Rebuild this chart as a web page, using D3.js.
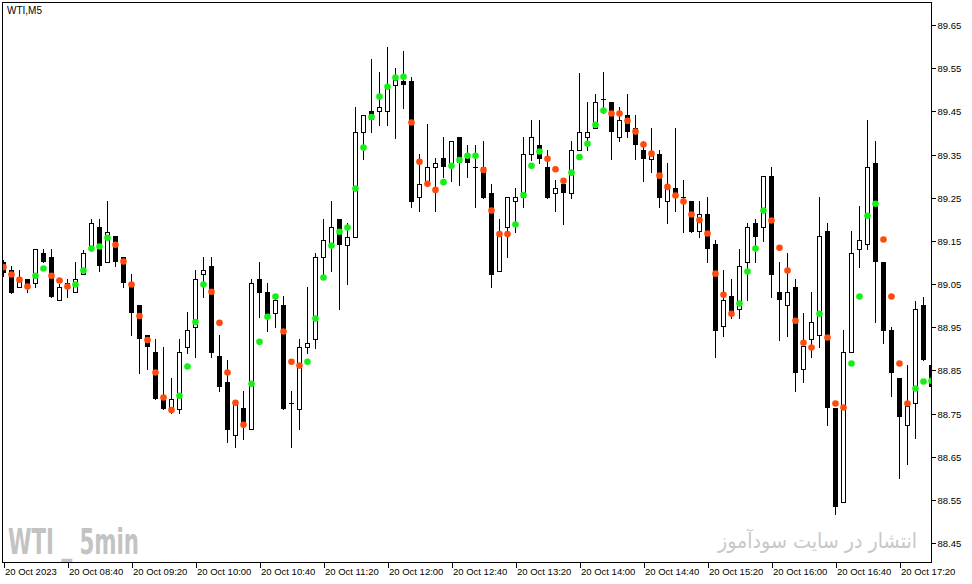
<!DOCTYPE html>
<html><head><meta charset="utf-8">
<script src="https://cdn.jsdelivr.net/npm/d3@7"></script>
<style>body{margin:0;background:#fff}svg{display:block}</style>
</head><body>
<svg id="c" width="972" height="584"></svg>
<script>
// OHLC of WTI M5 candles, 20 Oct 2023 from 08:00, one per 5 minutes
const openP  =[89.101,89.083,89.043,89.061,89.052,89.122,89.112,89.013,89.052,89.031,89.073,89.131,89.182,89.101,89.161,89.112,89.046,89.001,88.931,88.893,88.791,88.760,88.760,88.904,88.951,89.073,89.092,88.883,88.823,88.701,88.763,88.714,89.062,89.032,88.982,89.002,88.774,88.761,88.904,88.922,89.112,89.140,89.200,89.141,89.160,89.402,89.450,89.450,89.450,89.510,89.521,89.520,89.251,89.281,89.321,89.341,89.330,89.390,89.349,89.321,89.321,89.260,89.081,89.182,89.242,89.252,89.351,89.371,89.321,89.260,89.281,89.260,89.360,89.390,89.411,89.479,89.471,89.390,89.441,89.411,89.360,89.340,89.351,89.242,89.273,89.251,89.242,89.172,89.212,89.143,88.952,89.022,88.991,89.100,89.191,89.182,89.300,89.032,89.001,89.043,88.853,88.922,88.931,89.172,88.762,88.545,88.892,89.131,89.142,89.330,89.100,88.944,88.832,88.723,88.774,89.001,88.863];
const highP  =[89.106,89.092,89.083,89.061,89.131,89.131,89.131,89.050,89.061,89.102,89.129,89.200,89.200,89.242,89.161,89.112,89.073,89.001,88.931,88.923,88.905,88.832,88.923,88.984,89.083,89.113,89.113,88.931,88.874,88.781,88.803,89.062,89.101,89.053,89.021,89.022,88.803,88.922,89.043,89.121,89.200,89.242,89.200,89.191,89.459,89.441,89.571,89.541,89.598,89.550,89.589,89.529,89.351,89.421,89.342,89.390,89.381,89.390,89.372,89.372,89.381,89.282,89.200,89.251,89.273,89.390,89.430,89.430,89.360,89.291,89.281,89.381,89.539,89.472,89.490,89.541,89.471,89.459,89.490,89.442,89.382,89.411,89.360,89.330,89.411,89.291,89.242,89.242,89.252,89.152,89.083,89.062,89.132,89.192,89.201,89.300,89.322,89.101,89.121,89.062,88.982,89.032,89.251,89.191,88.762,88.944,89.173,89.230,89.430,89.381,89.100,88.951,88.832,88.862,89.011,89.021,88.913];
const lowP   =[89.069,89.029,89.043,89.032,89.043,89.100,89.021,89.013,89.021,89.031,89.073,89.131,89.081,89.101,89.092,89.043,88.931,88.843,88.853,88.783,88.761,88.752,88.752,88.891,88.882,89.021,88.882,88.802,88.683,88.673,88.692,88.714,88.973,88.942,88.951,88.761,88.673,88.714,88.891,88.902,89.067,89.081,88.992,89.050,89.160,89.340,89.401,89.419,89.419,89.388,89.458,89.229,89.220,89.281,89.220,89.297,89.289,89.280,89.299,89.229,89.250,89.043,89.081,89.112,89.171,89.229,89.337,89.330,89.250,89.220,89.190,89.250,89.360,89.360,89.411,89.446,89.340,89.381,89.390,89.340,89.289,89.310,89.229,89.191,89.220,89.171,89.171,89.160,89.100,88.882,88.930,88.971,88.971,89.012,89.101,89.150,89.021,88.920,88.930,88.802,88.822,88.882,88.904,88.723,88.517,88.545,88.892,89.090,89.131,88.961,88.913,88.791,88.601,88.633,88.693,88.873,88.731];
const closeP =[89.076,89.030,89.066,89.044,89.131,89.100,89.021,89.043,89.046,89.061,89.121,89.191,89.092,89.171,89.100,89.052,88.982,88.922,88.904,88.783,88.761,88.783,88.893,88.944,89.061,89.083,88.891,88.812,88.712,88.771,88.720,89.052,89.030,88.974,89.012,88.761,88.774,88.904,88.913,89.112,89.151,89.182,89.141,89.160,89.402,89.441,89.430,89.459,89.507,89.523,89.510,89.241,89.281,89.321,89.330,89.320,89.381,89.330,89.330,89.321,89.250,89.072,89.166,89.251,89.251,89.351,89.390,89.340,89.250,89.272,89.260,89.360,89.402,89.402,89.471,89.479,89.402,89.429,89.402,89.371,89.340,89.354,89.250,89.280,89.257,89.251,89.171,89.212,89.130,88.942,89.012,88.979,89.091,89.182,89.160,89.300,89.072,89.012,89.032,88.843,88.907,88.961,89.161,88.762,88.533,88.892,89.121,89.151,89.321,89.100,88.942,88.843,88.743,88.768,88.992,88.873,88.812];
// indicator dots: value and trend (g = up / green, o = down / orange)
const dotP   =[89.089,89.072,89.060,89.044,89.069,89.086,89.069,89.058,89.044,89.049,89.081,89.132,89.137,89.157,89.141,89.102,89.049,88.976,88.920,88.845,88.787,88.758,88.791,88.859,88.962,89.049,89.032,88.960,88.845,88.775,88.724,88.819,88.916,88.974,89.021,88.940,88.870,88.861,88.870,88.970,89.065,89.139,89.171,89.181,89.271,89.366,89.437,89.484,89.507,89.528,89.530,89.424,89.333,89.282,89.268,89.286,89.324,89.337,89.347,89.347,89.314,89.220,89.166,89.166,89.188,89.256,89.324,89.357,89.340,89.316,89.289,89.308,89.344,89.375,89.419,89.452,89.445,89.445,89.428,89.403,89.373,89.352,89.301,89.275,89.255,89.241,89.211,89.198,89.167,89.074,89.025,88.981,89.005,89.079,89.132,89.220,89.197,89.134,89.081,88.965,88.914,88.903,88.981,88.926,88.773,88.764,88.866,89.021,89.208,89.236,89.153,89.021,88.866,88.773,88.808,88.824,88.826];
const dotDir =["ooooggooog","ggggoooooo","ooggggoooo","oggggooogg","gggggggggg",
               "gooooggggg","ooooggggoo","ogggggoooo","oooooooooo","ooggggoooo",
               "oogooogggg","ooooggg"].join("").split("");
const xTickIdx   =[0,8,16,24,32,40,48,56,64,72,80,88,96,104,112];
const xTickLabels=["20 Oct 2023","20 Oct 08:40","20 Oct 09:20","20 Oct 10:00","20 Oct 10:40","20 Oct 11:20","20 Oct 12:00","20 Oct 12:40","20 Oct 13:20","20 Oct 14:00","20 Oct 14:40","20 Oct 15:20","20 Oct 16:00","20 Oct 16:40","20 Oct 17:20"];
const yTicks=[88.45,88.55,88.65,88.75,88.85,88.95,89.05,89.15,89.25,89.35,89.45,89.55,89.65];

const svg=d3.select('#c');
svg.append('rect').attr('width',972).attr('height',584).attr('fill','#fff');
const x=d3.scaleLinear().domain([0,116]).range([3.5,931.5]);
const y=d3.scaleLinear().domain([88.45,89.65]).range([543,25]);
const font='"Liberation Sans", Arial, sans-serif';

// watermarks
svg.append('text').attr('x',8).attr('y',554)
  .attr('font-family','"Liberation Sans Narrow","DejaVu Sans Condensed","Liberation Sans",sans-serif')
  .attr('font-weight','bold').attr('font-size',36).attr('fill','#c3c3c3')
  .attr('textLength',131).attr('lengthAdjust','spacingAndGlyphs').text('WTI _ 5min');
svg.append('text').attr('x',817.5).attr('y',548).attr('text-anchor','middle')
  .attr('font-family','"DejaVu Sans", sans-serif').attr('font-size',21).attr('fill','#c8c8c8')
  .attr('textLength',199).attr('lengthAdjust','spacingAndGlyphs').text('انتشار در سایت سودآموز');

svg.append('defs').append('clipPath').attr('id','clip').append('rect')
  .attr('x',3).attr('y',3).attr('width',928).attr('height',559);
const g=svg.append('g').attr('clip-path','url(#clip)');

const idx=d3.range(openP.length);
// wicks
g.selectAll('line.w').data(idx).join('line').attr('class','w')
  .attr('x1',i=>x(i)).attr('x2',i=>x(i))
  .attr('y1',i=>Math.round(y(highP[i]))).attr('y2',i=>Math.round(y(lowP[i]))+1)
  .attr('stroke','#000').attr('stroke-width',1).attr('shape-rendering','crispEdges');
// bodies
idx.forEach(i=>{
  const o=openP[i],c=closeP[i],cx=x(i);
  const t=Math.round(y(Math.max(o,c))),b=Math.round(y(Math.min(o,c)));
  if(c>o){
    g.append('rect').attr('x',cx-2).attr('y',t+0.5).attr('width',4).attr('height',Math.max(b-t,1))
      .attr('fill','#fff').attr('stroke','#000').attr('stroke-width',1).attr('shape-rendering','crispEdges');
  }else if(c<o){
    g.append('rect').attr('x',cx-2.5).attr('y',t).attr('width',5).attr('height',Math.max(b-t,1))
      .attr('fill','#000').attr('shape-rendering','crispEdges');
  }else{
    g.append('line').attr('x1',cx-2.5).attr('x2',cx+2.5).attr('y1',t+0.5).attr('y2',t+0.5)
      .attr('stroke','#000').attr('shape-rendering','crispEdges');
  }
});
// dots
g.selectAll('circle').data(idx).join('circle')
  .attr('cx',i=>x(i)).attr('cy',i=>y(dotP[i])).attr('r',3.3)
  .attr('fill',i=>dotDir[i]==='g'?'#14f014':'#ff4a0c');

// frame
svg.append('rect').attr('x',2.5).attr('y',2.5).attr('width',929).attr('height',560)
  .attr('fill','none').attr('stroke','#000').attr('stroke-width',1);

// right axis
const ya=svg.append('g').attr('transform','translate(931.5,0)')
  .call(d3.axisRight(y).tickValues(yTicks).tickSize(4).tickPadding(2).tickFormat(d3.format('.2f')));
ya.select('.domain').remove();
ya.selectAll('.tick').attr('transform',d=>`translate(0,${Math.round(y(d))+0.5})`);
ya.selectAll('text').attr('font-family',font).attr('font-size',9.5).attr('fill','#000');
ya.selectAll('line').attr('stroke','#000').attr('shape-rendering','crispEdges');

// bottom axis
const xa=svg.append('g').attr('transform','translate(0,562.5)')
  .call(d3.axisBottom(x).tickValues(xTickIdx).tickSize(5).tickFormat((d,i)=>xTickLabels[i]));
xa.select('.domain').remove();
xa.selectAll('text').attr('font-family',font).attr('font-size',9.5).attr('fill','#000')
  .attr('text-anchor','start').attr('x',1).attr('y',12.5).attr('dy',0);
xa.selectAll('line').attr('stroke','#000').attr('shape-rendering','crispEdges');

// title
svg.append('text').attr('x',7).attr('y',14.3).attr('font-family',font).attr('font-size',10)
  .attr('fill','#000').text('WTI,M5');
</script>
</body></html>
